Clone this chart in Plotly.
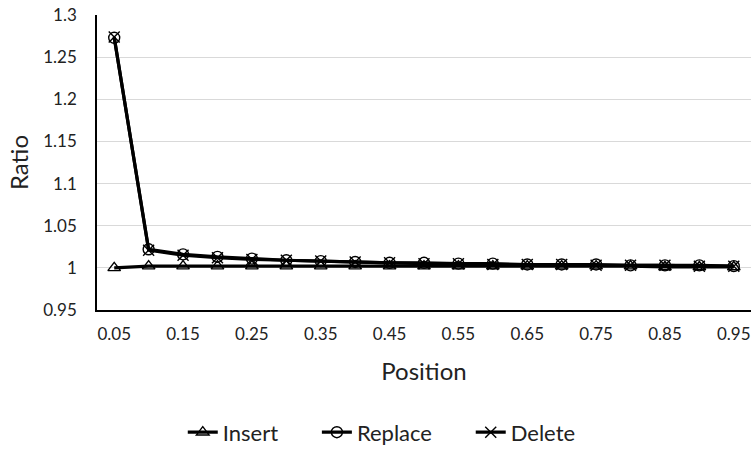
import plotly.graph_objects as go

positions = [0.05, 0.10, 0.15, 0.20, 0.25, 0.30, 0.35, 0.40, 0.45, 0.50,
             0.55, 0.60, 0.65, 0.70, 0.75, 0.80, 0.85, 0.90, 0.95]
insert = [1.000, 1.002, 1.002, 1.002, 1.002, 1.002, 1.002, 1.002, 1.002, 1.002,
          1.002, 1.002, 1.002, 1.002, 1.002, 1.002, 1.001, 1.001, 1.001]
replace = [1.273, 1.022, 1.016, 1.013, 1.011, 1.009, 1.008, 1.007, 1.006, 1.006,
           1.005, 1.005, 1.004, 1.004, 1.004, 1.003, 1.003, 1.003, 1.002]
delete = [1.274, 1.021, 1.015, 1.012, 1.010, 1.009, 1.008, 1.007, 1.006, 1.005,
          1.005, 1.004, 1.004, 1.004, 1.003, 1.003, 1.003, 1.002, 1.002]
series_names = ["Insert", "Replace", "Delete"]
x_ticks = [0.05, 0.15, 0.25, 0.35, 0.45, 0.55, 0.65, 0.75, 0.85, 0.95]
x_tick_labels = ["0.05", "0.15", "0.25", "0.35", "0.45", "0.55", "0.65", "0.75", "0.85", "0.95"]
y_ticks = [0.95, 1.0, 1.05, 1.1, 1.15, 1.2, 1.25, 1.3]
y_tick_labels = ["0.95", "1", "1.05", "1.1", "1.15", "1.2", "1.25", "1.3"]

fig = go.Figure()
symbols = ["triangle-up-open", "circle-open", "x-thin-open"]
values = [insert, replace, delete]
pad = "\u00a0" * 6  # extra spacing between legend entries
for i, (name, vals, sym) in enumerate(zip(series_names, values, symbols)):
    label = name + (pad if i < len(series_names) - 1 else "")
    fig.add_trace(go.Scatter(
        x=positions, y=vals, name=label, mode="lines+markers",
        line=dict(color="black", width=3.2),
        marker=dict(symbol=sym, size=11, color="black", line=dict(color="black", width=1.4)),
    ))

fig.update_layout(
    width=753, height=449,
    margin=dict(l=97, r=2, t=15, b=139),
    paper_bgcolor="white", plot_bgcolor="white",
    font=dict(family="Lato, sans-serif", color="#222222", size=17),
    legend=dict(orientation="h", xref="container", x=0.507, xanchor="center",
                yref="container", y=0.037, yanchor="middle",
                font=dict(size=22, color="#222222"), traceorder="normal"),
    xaxis=dict(range=[0.025, 0.975], tickvals=x_ticks, ticktext=x_tick_labels,
               showgrid=False, showline=True, linecolor="black", linewidth=1.5,
               ticks="", tickfont=dict(size=17, color="#222222"), ticklabelstandoff=8,
               title=dict(text="Position", font=dict(size=24, color="#222222"), standoff=20),
               zeroline=False),
    yaxis=dict(range=[0.95, 1.3], tickvals=y_ticks, ticktext=y_tick_labels,
               showgrid=True, gridcolor="#d9d9d9", gridwidth=1.3,
               showline=True, linecolor="black", linewidth=1.5,
               ticks="", tickfont=dict(size=17, color="#222222"), ticklabelstandoff=15,
               title=dict(text="Ratio", font=dict(size=24, color="#222222"), standoff=8),
               zeroline=False),
)

fig.write_html("out.html", config={"displayModeBar": False},
               post_script="document.body.style.margin='0';")
